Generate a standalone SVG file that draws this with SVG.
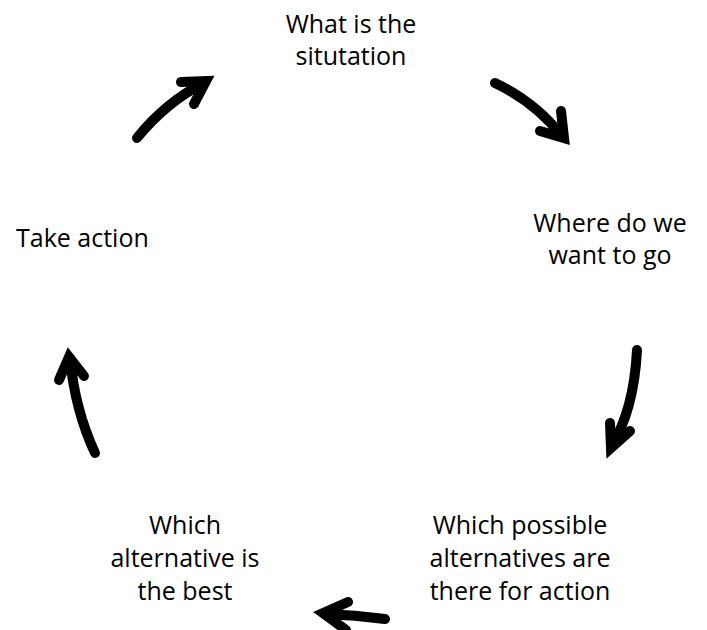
<svg xmlns="http://www.w3.org/2000/svg" width="707" height="630" viewBox="0 0 707 630">
<style>
text{font-family:"Open Sans","Noto Sans","Liberation Sans",sans-serif;font-size:25px;fill:#000}
.c{text-anchor:middle}
.shaft{fill:none;stroke:#000;stroke-width:10;stroke-linecap:round}
.head{fill:none;stroke:#000;stroke-width:10;stroke-linecap:round;stroke-linejoin:miter;stroke-miterlimit:10}
</style>
<rect width="707" height="630" fill="#fff"/>
<g id="connectors">
<g id="arrow-top-left"><path class="shaft" d="M137,138 Q165,103 205,82"/><path class="head" d="M181,82 L206,81 L194,104"/></g>
<g id="arrow-top-right"><path class="shaft" d="M495,83 Q535,102 562,136"/><path class="head" d="M561,111 L564,138 L540,131"/></g>
<g id="arrow-right"><path class="shaft" d="M637,350 Q634,410 611,447"/><path class="head" d="M610,423 L611,448 L630,431"/></g>
<g id="arrow-bottom"><path class="shaft" d="M385,619 Q355,615 325,614"/><path class="head" d="M348,602 L323,613 L346,630"/></g>
<g id="arrow-left"><path class="shaft" d="M95,453 Q75,410 70,358"/><path class="head" d="M59,380 L69,357 L84,376"/></g>
</g>
<g id="node-situation"><text class="c" x="351" y="33">What is the</text><text class="c" x="351" y="65">situtation</text></g>
<g id="node-where"><text class="c" x="610" y="232">Where do we</text><text class="c" x="610" y="264">want to go</text></g>
<g id="node-possible"><text class="c" x="520" y="534">Which possible</text><text class="c" x="520" y="567">alternatives are</text><text class="c" x="520" y="600">there for action</text></g>
<g id="node-best"><text class="c" x="185" y="534">Which</text><text class="c" x="185" y="567">alternative is</text><text class="c" x="185" y="600">the best</text></g>
<g id="node-action"><text x="16" y="247">Take action</text></g>
</svg>
